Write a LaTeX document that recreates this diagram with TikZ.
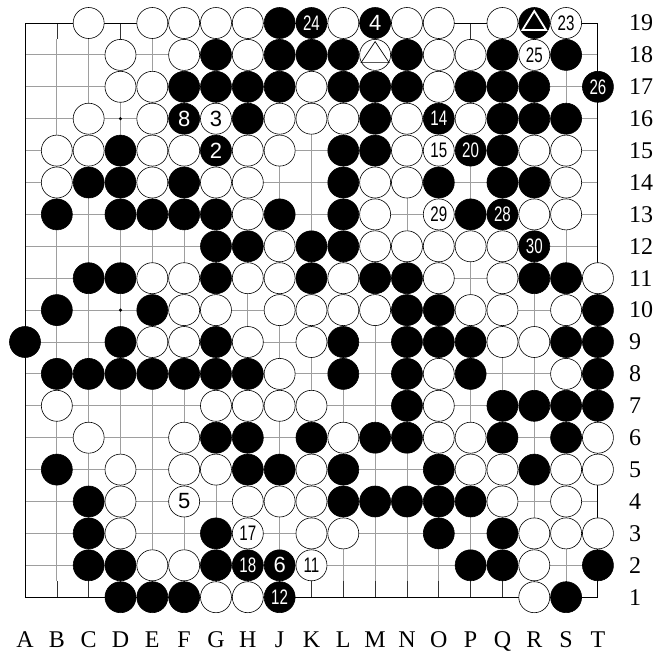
\documentclass[tikz,border=0pt]{standalone}
\usepackage{fontspec}
\setmainfont{Liberation Serif}
\newfontfamily\numfont{Liberation Sans}
\usetikzlibrary{calc}
\newcommand{\twodig}[1]{\scalebox{0.72}[1]{#1}}
\begin{document}
\begin{tikzpicture}[x=1pt,y=-1pt,
  gridline/.style={draw=black!38,line width=0.9pt},
  edgestub/.style={draw=black!80,line width=0.6pt},
  boardedge/.style={draw=black,line width=0.9pt},
  stone/.style={circle,minimum size=31pt,inner sep=0pt,outer sep=0pt,line width=0.6pt,draw=black},
  bst/.style={stone,fill=black,text=white},
  wst/.style={stone,fill=white,text=black},
  one/.style={font=\numfont\fontsize{22}{22}\selectfont},
  two/.style={font=\numfont\fontsize{21}{21}\selectfont},
  lbl/.style={font=\fontsize{24}{24}\selectfont,inner sep=0pt},
  starpt/.style={circle,fill=black,minimum size=3.4pt,inner sep=0pt}
]
\useasboundingbox (0,0) rectangle (653,654);
\fill[white] (0,0) rectangle (653,654);

% intersections
\foreach \c [count=\i from 0] in {A,B,C,D,E,F,G,H,J,K,L,M,N,O,P,Q,R,S,T} {
  \foreach \r in {1,...,19} {
    \coordinate (\c\r) at ({25+\i*31.83},{23+(19-\r)*31.9});
  }
}

% grid
\foreach \c in {B,C,D,E,F,G,H,J,K,L,M,N,O,P,Q,R,S} {
  \draw[gridline] ([yshift=-16pt]\c19) -- ([yshift=16pt]\c1);
  \draw[edgestub] (\c19) -- ([yshift=-16pt]\c19);
  \draw[edgestub] (\c1) -- ([yshift=16pt]\c1);
}
\foreach \r in {2,...,18} {
  \draw[gridline] (A\r) -- (T\r);
}
\draw[boardedge] (A19) -- (T19) -- (T1) -- (A1) -- cycle;

% star points
\foreach \p in {D4,D10,D16,K4,K10,K16,Q4,Q10,Q16} {
  \node[starpt] (star\p) at (\p) {};
}

% black stones
\foreach \p in {J19,
  G18,J18,K18,L18,N18,Q18,S18,
  F17,G17,H17,J17,L17,M17,N17,P17,Q17,R17,
  H16,M16,Q16,R16,S16,
  D15,L15,M15,Q15,
  C14,D14,F14,L14,O14,Q14,R14,
  B13,D13,E13,F13,G13,J13,L13,P13,
  G12,H12,K12,L12,
  C11,D11,G11,K11,M11,N11,R11,S11,
  B10,E10,N10,O10,T10,
  A9,D9,G9,L9,N9,O9,P9,S9,T9,
  B8,C8,D8,E8,F8,G8,H8,L8,N8,P8,T8,
  N7,Q7,R7,S7,T7,
  G6,H6,K6,M6,N6,Q6,S6,
  B5,H5,J5,L5,O5,R5,
  C4,L4,M4,N4,O4,P4,
  C3,G3,O3,Q3,
  C2,D2,G2,P2,Q2,T2,
  D1,E1,F1,S1} {
  \node[bst] (s\p) at (\p) {};
}

% white stones
\foreach \p in {C19,E19,F19,G19,H19,L19,N19,O19,Q19,
  D18,F18,H18,O18,P18,
  D17,E17,K17,O17,
  C16,E16,J16,K16,L16,N16,P16,
  B15,C15,E15,F15,H15,J15,N15,R15,S15,
  B14,E14,G14,H14,M14,N14,S14,
  H13,M13,R13,S13,
  J12,M12,N12,O12,P12,Q12,
  E11,F11,H11,J11,L11,O11,Q11,T11,
  F10,G10,J10,K10,L10,M10,P10,Q10,S10,
  E9,F9,H9,K9,Q9,R9,
  J8,O8,S8,
  B7,G7,H7,J7,K7,O7,
  C6,F6,L6,O6,P6,T6,
  D5,F5,G5,K5,P5,Q5,S5,T5,
  D4,H4,J4,K4,Q4,S4,
  D3,K3,L3,R3,S3,T3,
  E2,F2,R2,
  G1,H1,R1} {
  \node[wst] (s\p) at (\p) {};
}

% numbered black stones
\node[bst,one] (sM19) at (M19) {4};
\node[bst,one] (sF16) at (F16) {8};
\node[bst,one] (sG15) at (G15) {2};
\node[bst,one] (sJ2) at (J2) {6};
\node[bst,two] (sK19) at (K19) {\twodig{24}};
\node[bst,two] (sT17) at (T17) {\twodig{26}};
\node[bst,two] (sO16) at (O16) {\twodig{14}};
\node[bst,two] (sP15) at (P15) {\twodig{20}};
\node[bst,two] (sQ13) at (Q13) {\twodig{28}};
\node[bst,two] (sR12) at (R12) {\twodig{30}};
\node[bst,two] (sH2) at (H2) {\twodig{18}};
\node[bst,two] (sJ1) at (J1) {\twodig{12}};

% numbered white stones
\node[wst,one] (sG16) at (G16) {3};
\node[wst,one] (sF4) at (F4) {5};
\node[wst,two] (sS19) at (S19) {\twodig{23}};
\node[wst,two] (sR18) at (R18) {\twodig{25}};
\node[wst,two] (sO15) at (O15) {\twodig{15}};
\node[wst,two] (sO13) at (O13) {\twodig{29}};
\node[wst,two] (sH3) at (H3) {\twodig{17}};
\node[wst,two] (sK2) at (K2) {\twodig{11}};

% marked stones
\node[bst] (sR19) at (R19) {};
\draw[white,line width=1.8pt,line join=miter] (sR19.center) +(0,-12) -- +(-11.8,7) -- +(11.8,7) -- cycle;
\node[wst] (sM18) at (M18) {};
\draw[black,line width=0.7pt] (sM18.center) +(0,-13.3) -- +(-14,7.7) -- +(14,7.7) -- cycle;

% coordinates labels
\foreach \c in {A,B,C,D,E,F,G,H,J,K,L,M,N,O,P,Q,R,S,T} {
  \node[lbl,anchor=base] (col\c) at ([yshift=-50pt]\c1) {\c};
}
\foreach \r in {1,...,19} {
  \node[lbl,anchor=west] (row\r) at ([xshift=31pt]T\r) {\r};
}
\end{tikzpicture}
\end{document}
